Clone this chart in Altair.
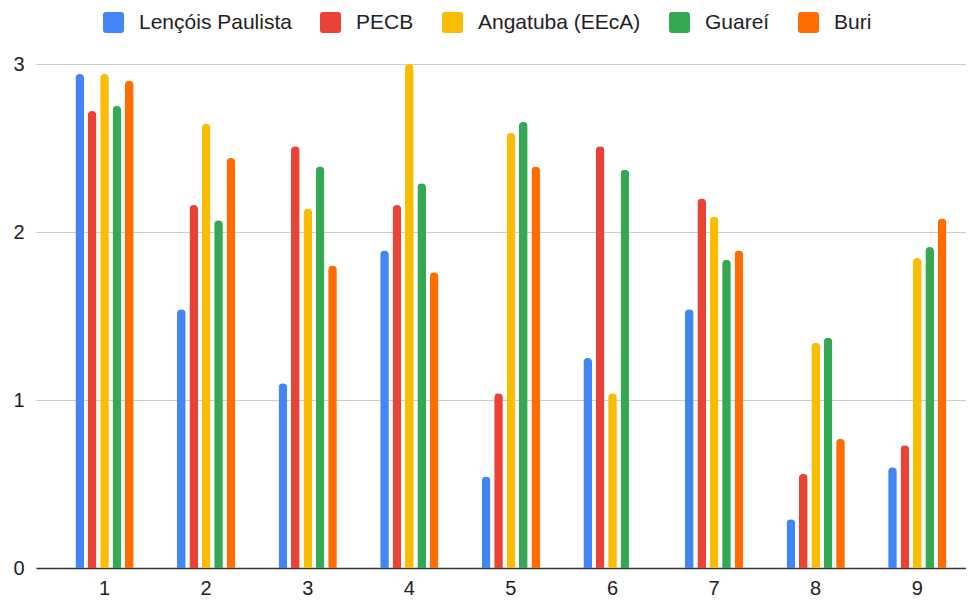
import altair as alt
import pandas as pd

grupos = ["1", "2", "3", "4", "5", "6", "7", "8", "9"]
series = ["Lençóis Paulista", "PECB", "Angatuba (EEcA)", "Guareí", "Buri"]
cores = ["#4285F4", "#EA4335", "#FBBC04", "#34A853", "#FF6D01"]

lencois = [2.94, 1.54, 1.10, 1.89, 0.545, 1.25, 1.54, 0.29, 0.60]
pecb = [2.72, 2.16, 2.51, 2.16, 1.04, 2.51, 2.20, 0.56, 0.73]
angatuba = [2.94, 2.645, 2.14, 3.00, 2.59, 1.04, 2.09, 1.34, 1.845]
guarei = [2.75, 2.07, 2.39, 2.29, 2.655, 2.37, 1.835, 1.37, 1.91]
buri = [2.90, 2.44, 1.80, 1.76, 2.39, None, 1.89, 0.77, 2.08]

valores = [lencois, pecb, angatuba, guarei, buri]
rows = []
for s, vals in zip(series, valores):
    for g, v in zip(grupos, vals):
        if v is not None:
            rows.append({"grupo": g, "serie": s, "valor": v})
df = pd.DataFrame(rows)

fonte = "Liberation Sans"
simbolo = ("M-0.72,-1 L0.72,-1 Q1,-1 1,-0.72 L1,0.72 Q1,1 0.72,1 "
           "L-0.72,1 Q-1,1 -1,0.72 L-1,-0.72 Q-1,-1 -0.72,-1 Z")

chart = alt.Chart(df).mark_bar(
    cornerRadiusTopLeft=4, cornerRadiusTopRight=4
).encode(
    x=alt.X(
        "grupo:N", sort=grupos,
        scale=alt.Scale(paddingInner=0.39, paddingOuter=0.272, align=0.679),
        axis=alt.Axis(title=None, labelAngle=0, labelFontSize=20, labelFont=fonte,
                      labelColor="#222222", ticks=False, domainColor="#333333",
                      domainWidth=1.5, labelPadding=10, grid=False),
    ),
    xOffset=alt.XOffset("serie:N", sort=series,
                        scale=alt.Scale(paddingInner=0.3, paddingOuter=0.15)),
    y=alt.Y(
        "valor:Q",
        scale=alt.Scale(domain=[0, 3], nice=False),
        axis=alt.Axis(title=None, values=[0, 1, 2, 3], format="d", domain=False,
                      ticks=False, gridColor="#cccccc", labelFontSize=20,
                      labelFont=fonte, labelColor="#222222", labelPadding=12),
    ),
    color=alt.Color(
        "serie:N", sort=series,
        scale=alt.Scale(domain=series, range=cores),
        legend=alt.Legend(orient="none", legendX=67, legendY=-52, direction="horizontal",
                          columns=5, title=None, labelFontSize=21, labelFont=fonte,
                          labelColor="#222222", symbolType=simbolo, symbolSize=441,
                          symbolStrokeWidth=0, columnPadding=28, labelOffset=15,
                          labelLimit=300, padding=0),
    ),
).properties(
    width=930, height=504,
    padding={"left": 28, "top": 56, "right": 0, "bottom": 29},
    autosize="none",
).configure_view(stroke=None)

chart.save("out.html", embed_options={"renderer": "svg", "actions": False})
